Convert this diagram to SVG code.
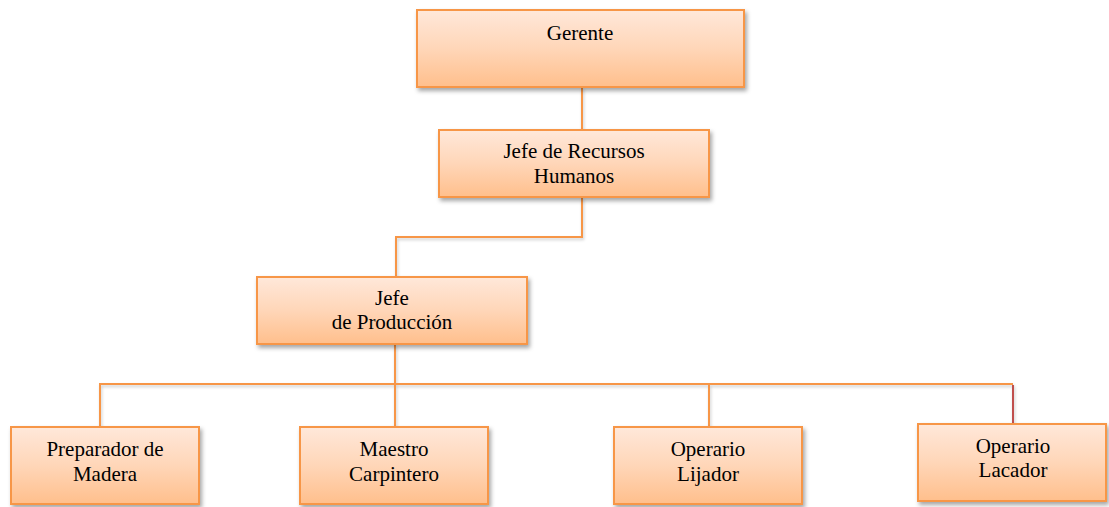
<svg xmlns="http://www.w3.org/2000/svg" width="1109" height="507" viewBox="0 0 1109 507">
  <defs>
    <linearGradient id="boxFill" x1="0" y1="0" x2="0" y2="1">
      <stop offset="0" stop-color="#FFE8DA"/>
      <stop offset="0.5" stop-color="#FFD6B8"/>
      <stop offset="1" stop-color="#FFBF8C"/>
    </linearGradient>
    <filter id="shadow" x="-10%" y="-20%" width="120%" height="150%">
      <feDropShadow dx="2" dy="3" stdDeviation="2" flood-color="#000" flood-opacity="0.35"/>
    </filter>
    <filter id="lineShadow" filterUnits="userSpaceOnUse" x="0" y="0" width="1109" height="507">
      <feDropShadow dx="1" dy="2" stdDeviation="1.5" flood-color="#000" flood-opacity="0.2"/>
    </filter>
  </defs>
  <style>
    .box { fill: url(#boxFill); stroke: #F79646; stroke-width: 2; filter: url(#shadow); }
    .lbl { font-size: 21px; fill: #000; text-anchor: middle; }
    .wire { fill: none; stroke: #F79646; stroke-width: 2; }
    .wire-red { fill: none; stroke: #C0504D; stroke-width: 2; }
  </style>
  <rect width="1109" height="507" fill="#fff"/>

  <!-- connectors -->
  <g id="connectors" filter="url(#lineShadow)">
    <path class="wire" d="M582 87 V130"/>
    <path class="wire" d="M582 197 V237 H396 V277"/>
    <path class="wire" d="M395 344 V384"/>
    <path class="wire" d="M100 427 V384 H1013"/>
    <path class="wire" d="M395 384 V427"/>
    <path class="wire" d="M709 384 V427"/>
    <path class="wire-red" d="M1013 385 V424"/>
  </g>

  <g font-family="Liberation Serif, Times New Roman, DejaVu Serif, serif">
    <g id="gerente">
      <rect class="box" x="417" y="10" width="327" height="77"/>
      <text class="lbl" x="580" y="40">Gerente</text>
    </g>

    <g id="jefe-rrhh">
      <rect class="box" x="439" y="130" width="270" height="67"/>
      <text class="lbl" x="574" y="158">Jefe de Recursos</text>
      <text class="lbl" x="574" y="183">Humanos</text>
    </g>

    <g id="jefe-produccion">
      <rect class="box" x="257" y="277" width="270" height="67"/>
      <text class="lbl" x="392" y="305">Jefe</text>
      <text class="lbl" x="392" y="329">de Producción</text>
    </g>

    <g id="preparador">
      <rect class="box" x="11" y="427" width="188" height="77"/>
      <text class="lbl" x="105" y="456">Preparador de</text>
      <text class="lbl" x="105" y="481">Madera</text>
    </g>

    <g id="maestro">
      <rect class="box" x="300" y="427" width="188" height="77"/>
      <text class="lbl" x="394" y="456">Maestro</text>
      <text class="lbl" x="394" y="481">Carpintero</text>
    </g>

    <g id="lijador">
      <rect class="box" x="614" y="427" width="188" height="77"/>
      <text class="lbl" x="708" y="456">Operario</text>
      <text class="lbl" x="708" y="481">Lijador</text>
    </g>

    <g id="lacador">
      <rect class="box" x="918" y="424" width="188" height="77"/>
      <text class="lbl" x="1013" y="453">Operario</text>
      <text class="lbl" x="1013" y="477">Lacador</text>
    </g>
  </g>
</svg>
